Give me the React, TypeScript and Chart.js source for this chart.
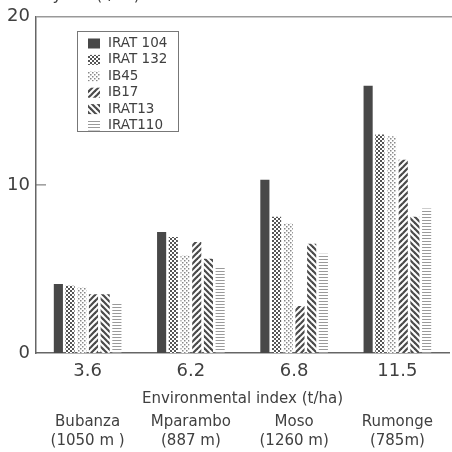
import React, { useEffect, useRef } from "react";
import { Chart, registerables } from "chart.js";

Chart.register(...registerables);

const indices = ["3.6", "6.2", "6.8", "11.5"];
const sites = [
  ["Bubanza", "(1050 m )"],
  ["Mparambo", "(887 m)"],
  ["Moso", "(1260 m)"],
  ["Rumonge", "(785m)"],
];
const varieties = ["IRAT 104", "IRAT 132", "IB45", "IB17", "IRAT13", "IRAT110"];
const irat104 = [4.1, 7.2, 10.3, 15.9];
const irat132 = [4.0, 6.9, 8.1, 13.0];
const ib45 = [3.9, 5.8, 7.7, 12.9];
const ib17 = [3.5, 6.6, 2.8, 11.5];
const irat13 = [3.5, 5.6, 6.5, 8.1];
const irat110 = [3.0, 5.1, 5.9, 8.6];
const yTicks = [0, 10, 20];
const yTitle = "Grain yield (t/ha)";
const xTitle = "Environmental index (t/ha)";

const FONT = "'DejaVu Sans', sans-serif";
const W = "normal";
const TEXT = "#404040";
const LINE = "#666";

function makePattern(kind: string): CanvasPattern | string {
  if (kind === "solid") return "#484848";
  const c = document.createElement("canvas");
  const ctx = c.getContext("2d")!;
  if (kind === "check") {
    c.width = 4; c.height = 4;
    ctx.fillStyle = "#fff"; ctx.fillRect(0, 0, 4, 4);
    ctx.fillStyle = "#555";
    ctx.fillRect(0, 0, 2, 2); ctx.fillRect(2, 2, 2, 2);
  } else if (kind === "dots") {
    c.width = 4; c.height = 4;
    ctx.fillStyle = "#fff"; ctx.fillRect(0, 0, 4, 4);
    ctx.fillStyle = "#888";
    ctx.fillRect(0, 0, 1.5, 1.5); ctx.fillRect(2, 2, 1.5, 1.5);
  } else if (kind === "fwd" || kind === "back") {
    c.width = 6; c.height = 6;
    ctx.fillStyle = "#fff"; ctx.fillRect(0, 0, 6, 6);
    ctx.strokeStyle = "#4a4a4a"; ctx.lineWidth = 2.2;
    const lines = kind === "fwd"
      ? [[-1, 7, 7, -1], [-4, 4, 4, -4], [2, 10, 10, 2]]
      : [[-1, -1, 7, 7], [-4, 2, 4, 10], [2, -4, 10, 4]];
    for (const [a, b, d, e] of lines) {
      ctx.beginPath(); ctx.moveTo(a, b); ctx.lineTo(d, e); ctx.stroke();
    }
  } else if (kind === "hlines") {
    c.width = 4; c.height = 3;
    ctx.fillStyle = "#fff"; ctx.fillRect(0, 0, 4, 3);
    ctx.fillStyle = "#9a9a9a"; ctx.fillRect(0, 1, 4, 1);
  }
  return ctx.createPattern(c, "repeat")!;
}

export default function App() {
  const ref = useRef<HTMLCanvasElement>(null);
  useEffect(() => {
    document.body.style.margin = "0";
    const kinds = ["solid", "check", "dots", "fwd", "back", "hlines"];
    const fills = kinds.map(makePattern);
    const series = [irat104, irat132, ib45, ib17, irat13, irat110];

    const decor = {
      id: "decor",
      afterDraw(chart: any) {
        const { ctx, chartArea } = chart;
        const y = chart.scales.y;
        ctx.save();
        ctx.strokeStyle = "#999";
        ctx.lineWidth = 1.5;
        ctx.beginPath();
        ctx.moveTo(chartArea.left, chartArea.top);
        ctx.lineTo(chartArea.right + 5, chartArea.top);
        ctx.stroke();
        ctx.strokeStyle = LINE;
        ctx.lineWidth = 1;
        const ty = y.getPixelForValue(yTicks[1]);
        ctx.beginPath();
        ctx.moveTo(chartArea.left, ty);
        ctx.lineTo(chartArea.left + 10, ty);
        ctx.stroke();
        ctx.fillStyle = TEXT;
        ctx.font = `${W} 16px ${FONT}`;
        ctx.textBaseline = "alphabetic";
        ctx.textAlign = "left";
        ctx.fillText(yTitle, 4, 0);
        const bx = 77, by = 31, bw = 101, bh = 100;
        ctx.strokeStyle = "#777";
        ctx.lineWidth = 1;
        ctx.strokeRect(bx + 0.5, by + 0.5, bw, bh);
        ctx.font = `${W} 13.5px ${FONT}`;
        ctx.textBaseline = "middle";
        varieties.forEach((name, i) => {
          const cy = by + 12.5 + i * 16.4;
          ctx.fillStyle = fills[i] as any;
          ctx.fillRect(bx + 11, cy - 5, 12, 10);
          ctx.fillStyle = TEXT;
          ctx.fillText(name, bx + 31, cy);
        });
        ctx.restore();
      },
    };

    const chart = new Chart(ref.current!, {
      type: "bar",
      data: {
        labels: indices,
        datasets: varieties.map((v, i) => ({
          label: v,
          data: series[i],
          backgroundColor: fills[i] as any,
          borderWidth: 0,
          categoryPercentage: 0.68,
          barPercentage: 0.78,
        })),
      },
      options: {
        animation: false,
        responsive: false,
        maintainAspectRatio: false,
        layout: { padding: { top: 12, right: 3, left: 0, bottom: 0 } },
        plugins: { legend: { display: false }, tooltip: { enabled: false }, title: { display: false } },
        scales: {
          y: {
            min: 0,
            max: 20,
            afterBuildTicks: (s: any) => { s.ticks = yTicks.map((v) => ({ value: v })); },
            grid: { display: false, drawTicks: false },
            border: { display: true, color: LINE, width: 1.5 },
            ticks: { font: { size: 18, family: FONT, weight: W }, color: TEXT, padding: 6 },
            afterFit: (s: any) => { s.width = 36; },
          },
          x: {
            weight: 0,
            grid: { display: false, drawTicks: false },
            border: { display: true, color: LINE, width: 1.5 },
            ticks: { font: { size: 18, family: FONT, weight: W }, color: TEXT, padding: 8 },
            title: {
              display: true,
              text: xTitle,
              font: { size: 15, family: FONT, weight: W },
              color: TEXT,
              padding: { top: 0, bottom: 0 },
            },
            afterFit: (s: any) => { s.height = 55; },
          },
          x2: {
            type: "category",
            position: "bottom",
            weight: 1,
            offset: true,
            labels: sites as any,
            grid: { display: false, drawTicks: false },
            border: { display: false },
            ticks: { font: { size: 15, family: FONT, weight: W, lineHeight: 1.3 }, color: TEXT, padding: 4 },
            afterFit: (s: any) => { s.height = 44; },
          },
        },
      } as any,
      plugins: [decor],
    });
    return () => chart.destroy();
  }, []);
  return (
    <div style={{ width: 452, height: 452, background: "#fff" }}>
      <canvas ref={ref} width={452} height={452} style={{ display: "block" }} />
    </div>
  );
}
